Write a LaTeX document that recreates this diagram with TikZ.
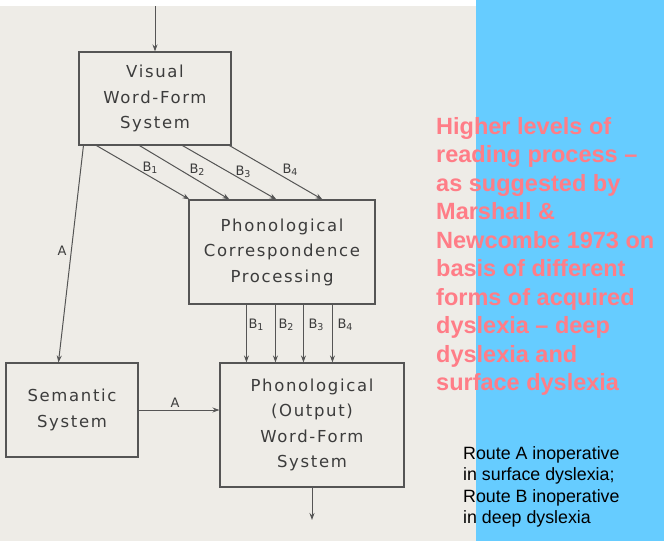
\documentclass[tikz,border=0pt]{standalone}
\usepackage{fontspec}
\setmainfont{Liberation Sans}
\newfontfamily\diagfont[LetterSpace=10]{DejaVu Sans}
\newfontfamily\labfont{DejaVu Sans}
\usetikzlibrary{arrows.meta,calc}
\definecolor{paper}{RGB}{238,236,231}
\definecolor{panel}{RGB}{102,204,255}
\definecolor{pinktxt}{RGB}{255,125,135}
\definecolor{ink}{RGB}{60,60,60}
\definecolor{linecol}{RGB}{85,85,85}
\newcommand\Bsub[1]{B\raisebox{-2.5pt}{\fontsize{9.5}{9.5}\selectfont #1}}
\begin{document}
\begin{tikzpicture}[x=1pt,y=-1pt,
 box/.style={draw=linecol, line width=1.1pt, align=center, text=ink,
   font=\diagfont\fontsize{16.5}{25.5}\selectfont, inner sep=0pt},
 conn/.style={draw=linecol, line width=1pt, -{Stealth[length=7pt,width=5pt]}},
 lab/.style={text=ink, font=\labfont\fontsize{13}{14}\selectfont, inner sep=0pt}]
\fill[paper] (0,0) rectangle (476,541);
\fill[white] (0,0) rectangle (476,6);
\fill[panel] (476,0) rectangle (664,541);
\useasboundingbox (0,0) rectangle (664,541);

\node[box, minimum width=152pt, minimum height=93pt] (vis) at (155,98.5) {Visual\\Word-Form\\System};
\node[box, minimum width=186pt, minimum height=104pt] (pcp) at (282,252) {Phonological\\Correspondence\\Processing};
\node[box, minimum width=132pt, minimum height=94pt] (sem) at (72,410) {Semantic\\System};
\node[box, minimum width=184pt, minimum height=124pt] (out) at (312,425) {Phonological\\(Output)\\Word-Form\\System};

\coordinate (top) at (155,6);
\coordinate (end) at (312,520);
\draw[conn] (top) -- (vis.north);
\draw[conn] (out.south) -- (end);

\foreach \s/\e in {18/1, 61/41, 104/88, 151/134}
  \draw[conn] ($(vis.south west)+(\s,0)$) -- ($(pcp.north west)+(\e,0)$);
\node[lab] (b1u) at (150,168) {\Bsub{1}};
\node[lab] (b2u) at (197,170) {\Bsub{2}};
\node[lab] (b3u) at (243,172) {\Bsub{3}};
\node[lab] (b4u) at (290,170) {\Bsub{4}};

\foreach \a/\b in {58/27, 87/56, 115/84, 144/113}
  \draw[conn] ($(pcp.south west)+(\a,0)$) -- ($(out.north west)+(\b,0)$);
\node[lab] (b1d) at (256,325) {\Bsub{1}};
\node[lab] (b2d) at (286,325) {\Bsub{2}};
\node[lab] (b3d) at (316,325) {\Bsub{3}};
\node[lab] (b4d) at (345,325) {\Bsub{4}};

\draw[conn] ($(vis.south west)+(5,0)$) -- ($(sem.north west)+(53,0)$);
\node[lab] (alab1) at (62,251) {A};
\draw[conn] (sem.east) -- (sem.east -| out.west);
\node[lab] (alab2) at (175,403) {A};

\node[anchor=north west, inner sep=0pt, align=left, text=pinktxt,
  font=\bfseries\fontsize{23.5}{28.5}\selectfont] (head) at (436,117)
  {Higher levels of\\reading process –\\as suggested by\\Marshall \&\\Newcombe 1973 on\\basis of different\\forms of acquired\\dyslexia – deep\\dyslexia and\\surface dyslexia};
\node[anchor=north west, inner sep=0pt, align=left, text=black,
  font=\fontsize{17.8}{21.5}\selectfont] (note) at (463,446)
  {Route A inoperative\\in surface dyslexia;\\Route B inoperative\\in deep dyslexia};
\end{tikzpicture}
\end{document}
